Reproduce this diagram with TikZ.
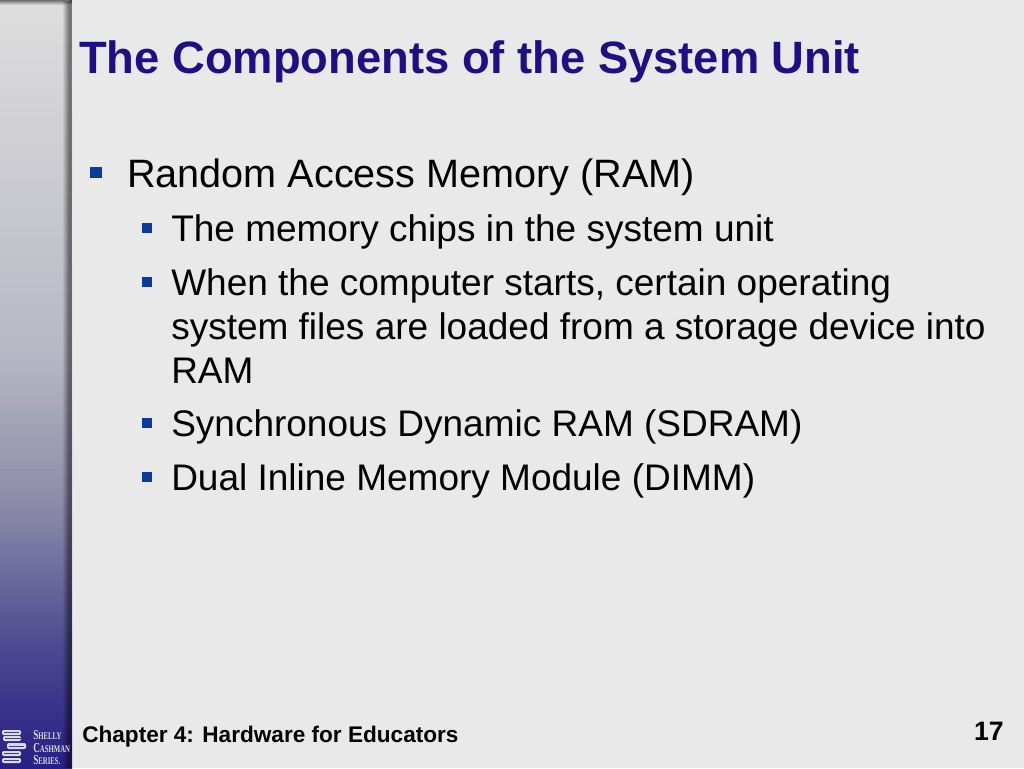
\documentclass[tikz,border=0pt]{standalone}
\usepackage{fontspec}
\usepackage{graphicx}
\usetikzlibrary{fadings}
\setmainfont{Liberation Sans}
\newfontfamily\logofont{Liberation Serif}
\definecolor{bgc}{HTML}{E9E9E9}
\definecolor{titlec}{HTML}{1F0F85}
\definecolor{bulletc}{HTML}{0B3A9E}
\definecolor{sbA}{HTML}{281E84}
\definecolor{sbB}{HTML}{4C4890}
\definecolor{sbC}{HTML}{8C8CAA}
\definecolor{sbD}{HTML}{B8B8C4}
\definecolor{sbE}{HTML}{DEDEDE}
\definecolor{logoc}{HTML}{DADAE6}
\pgfdeclareverticalshading{sidebarsh}{100bp}{
  color(0bp)=(sbA);color(25bp)=(sbA);color(32.7bp)=(sbB);color(42.4bp)=(sbC);color(52.2bp)=(sbD);color(75bp)=(sbE);color(100bp)=(sbE)}
\tikzset{
  x=0.75pt,y=-0.75pt,
  titletxt/.style={anchor=base west,inner sep=0pt,font=\fontsize{34}{38}\selectfont\bfseries,text=titlec},
  lvlone/.style={anchor=base west,inner sep=0pt,font=\fontsize{29.7}{34}\selectfont,text=black},
  lvltwo/.style={anchor=base west,inner sep=0pt,font=\fontsize{27.75}{32}\selectfont,text=black},
  foot/.style={anchor=base west,inner sep=0pt,font=\fontsize{16.95}{20}\selectfont\bfseries,text=black},
  pagenum/.style={anchor=base east,inner sep=0pt,font=\fontsize{20}{24}\selectfont\bfseries,text=black},
  logotxt/.style={anchor=base west,inner sep=0pt,font=\logofont\fontsize{10.3}{11}\selectfont\bfseries,text=logoc},
  bookstrip/.style={fill=logoc,draw=none,rounded corners=1pt},
  bookline/.style={draw=sbA!70!gray,line width=0.5pt}
}
\newcommand{\smcp}[2]{\scalebox{0.67}[1]{#1{\fontsize{7.6}{8}\selectfont #2}}}
\begin{document}
\begin{tikzpicture}
\useasboundingbox (0,0) rectangle (1024,768);
\fill[bgc] (0,0) rectangle (1024,768);
% sidebar
\shade[shading=sidebarsh] (0,0) rectangle (72,768);
\fill[black,opacity=0.55,path fading=west] (62,0) rectangle (70,768);
\fill[black,opacity=0.45] (70,0) rectangle (72,768);
\fill[black,opacity=0.5,path fading=south] (0,0) rectangle (72,5);
% logo books
\fill[bookstrip] (2,730) rectangle (21,735);
\fill[bookstrip] (3,736) rectangle (21,741);
\fill[bookstrip] (7,743) rectangle (26,749);
\fill[bookstrip] (2,751) rectangle (21,756);
\fill[bookstrip] (2,758) rectangle (21,763);
\draw[bookline] (4,732.5) -- (19,732.5);
\draw[bookline] (5,738.5) -- (21,738.5);
\draw[bookline] (9,746) -- (24,746);
\draw[bookline] (4,753.5) -- (19,753.5);
\draw[bookline] (4,760.5) -- (19,760.5);
\node[logotxt] (l1) at (33,739) {\smcp{S}{HELLY}};
\node[logotxt] (l2) at (33,752) {\smcp{C}{ASHMAN}};
\node[logotxt] (l3) at (33,764) {\smcp{S}{ERIES.}};
% title
\node[titletxt] (title) at (79,73) {The Components of the System Unit};
% bullets
\fill[bulletc] (90,167) rectangle (102,178);
\fill[bulletc] (142,223) rectangle (152,233);
\fill[bulletc] (142,277) rectangle (152,287);
\fill[bulletc] (142,418) rectangle (152,428);
\fill[bulletc] (142,472) rectangle (152,482);
% text
\node[lvlone] (t0) at (127,187) {Random Access Memory (RAM)};
\node[lvltwo] (t1) at (171,241) {The memory chips in the system unit};
\node[lvltwo] (t2) at (171,295) {When the computer starts, certain operating};
\node[lvltwo] (t3) at (171,339) {system files are loaded from a storage device into};
\node[lvltwo] (t4) at (171,383) {RAM};
\node[lvltwo] (t5) at (171,436) {Synchronous Dynamic RAM (SDRAM)};
\node[lvltwo] (t6) at (171,490) {Dual Inline Memory Module (DIMM)};
% footer
\node[foot] (f) at (82,742) {Chapter 4: Hardware for Educators};
\node[pagenum] (p) at (1004,740) {17};
\end{tikzpicture}
\end{document}
